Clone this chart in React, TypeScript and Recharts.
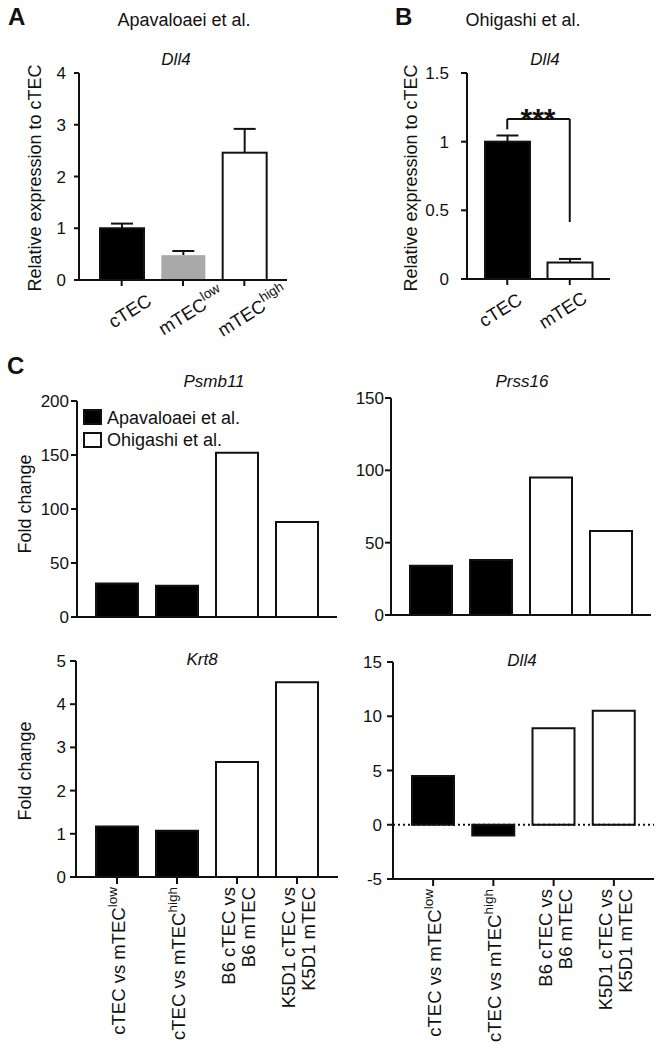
import React from "react";
import { BarChart, Bar, XAxis, YAxis, Cell, ReferenceLine } from "recharts";

const FONT = "'Liberation Sans', Arial, Helvetica, sans-serif";
const INK = "#111";

// A: Apavaloaei et al., Dll4 relative to cTEC
const apaCells = ["cTEC", "mTEC^low", "mTEC^high"];
const apaDll4 = [1.0, 0.48, 2.46];
const apaDll4Err = [0.09, 0.08, 0.46];
const apaFills = ["#000", "#a9a9a9", "#fff"];
const apaTicks = [0, 1, 2, 3, 4];

// B: Ohigashi et al., Dll4 relative to cTEC
const ohiCells = ["cTEC", "mTEC"];
const ohiDll4 = [1.0, 0.12];
const ohiDll4Err = [0.045, 0.026];
const ohiFills = ["#000", "#fff"];
const ohiTicks = [0, 0.5, 1, 1.5];

// C: fold changes per comparison
const comparisons = [
  "cTEC vs mTEC^low",
  "cTEC vs mTEC^high",
  "B6 cTEC vs\nB6 mTEC",
  "K5D1 cTEC vs\nK5D1 mTEC",
];
const comparisonSource = ["Apavaloaei et al.", "Apavaloaei et al.", "Ohigashi et al.", "Ohigashi et al."];
const sources = ["Apavaloaei et al.", "Ohigashi et al."];
const sourceFills = ["#000", "#fff"];

const psmb11Fold = [31, 29, 152, 88];
const prss16Fold = [34, 38, 95, 58];
const krt8Fold = [1.17, 1.07, 2.66, 4.51];
const dll4Fold = [4.5, -1.0, 8.9, 10.5];

const psmb11Ticks = [0, 50, 100, 150, 200];
const prss16Ticks = [0, 50, 100, 150];
const krt8Ticks = [0, 1, 2, 3, 4, 5];
const dll4Ticks = [-5, 0, 5, 10, 15];

const apaData = apaCells.map((name, i) => ({ name, value: apaDll4[i], err: apaDll4Err[i], fill: apaFills[i] }));
const ohiData = ohiCells.map((name, i) => ({ name, value: ohiDll4[i], err: ohiDll4Err[i], fill: ohiFills[i] }));
const foldData = (values: number[]) => comparisons.map((name, i) => ({ name, value: values[i] }));
const fillFor = (i: number) => sourceFills[sources.indexOf(comparisonSource[i])];

const axisLine = { stroke: INK, strokeWidth: 2 };
const tickStyle = { fill: INK, fontSize: 17, fontFamily: FONT };

function parseLabel(s: string) {
  return s.split("\n").map((l) => {
    const [base, sup] = l.split("^");
    return { base, sup };
  });
}

// bar with an upward-only error bar (SEM)
function ErrBarShape(props: any) {
  const { x, y, width, height, payload } = props;
  const perUnit = payload.value ? height / payload.value : 0;
  const top = y - payload.err * perUnit;
  const cx = x + width / 2;
  return (
    <g>
      <line x1={cx} x2={cx} y1={y} y2={top} stroke={INK} strokeWidth={2} />
      <line x1={cx - 11} x2={cx + 11} y1={top} y2={top} stroke={INK} strokeWidth={2} />
      <rect
        x={x}
        y={y}
        width={width}
        height={height}
        fill={payload.fill}
        stroke={payload.fill === "#a9a9a9" ? "none" : INK}
        strokeWidth={2}
      />
    </g>
  );
}

function SlantTick(props: any) {
  const { x, y, payload, dx } = props;
  const { base, sup } = parseLabel(payload.value)[0];
  return (
    <g transform={`translate(${x + dx},${y + 23}) rotate(-32)`}>
      <text textAnchor="middle" dy="0.35em" fontSize={18.5} fill={INK} fontFamily={FONT}>
        {base}
        {sup && (
          <tspan dy={-8} fontSize={13.5}>
            {sup}
          </tspan>
        )}
      </text>
    </g>
  );
}

function UprightTick(props: any) {
  const { x, y, payload } = props;
  const lines = parseLabel(payload.value);
  const n = lines.length;
  return (
    <g transform={`translate(${x},${y}) rotate(-90)`}>
      {lines.map((l, i) => (
        <text
          key={i}
          x={0}
          y={8 + (i - (n - 1) / 2) * 20}
          textAnchor="end"
          fontSize={18.5}
          fill={INK}
          fontFamily={FONT}
        >
          {l.base}
          {l.sup && (
            <tspan dy={-8} fontSize={13.5}>
              {l.sup}
            </tspan>
          )}
        </text>
      ))}
    </g>
  );
}

function FoldChart({
  values,
  ticks,
  width,
  height,
  margin,
  yWidth,
  tickMargin,
  xHeight,
  pad,
  labels,
  zeroLine,
}: any) {
  return (
    <BarChart width={width} height={height} data={foldData(values)} margin={margin}>
      <XAxis
        dataKey="name"
        interval={0}
        height={xHeight}
        padding={{ left: pad, right: pad }}
        axisLine={axisLine}
        tickLine={axisLine}
        tickSize={7}
        tickMargin={3}
        tick={labels ? (p: any) => <UprightTick {...p} /> : false}
      />
      <YAxis
        type="number"
        domain={[ticks[0], ticks[ticks.length - 1]]}
        ticks={ticks}
        interval={0}
        width={yWidth}
        axisLine={axisLine}
        tickLine={axisLine}
        tickSize={6}
        tickMargin={tickMargin}
        tick={tickStyle}
      />
      {zeroLine && <ReferenceLine y={0} stroke={INK} strokeWidth={2} strokeDasharray="2 3" />}
      <Bar dataKey="value" barSize={42} isAnimationActive={false} stroke={INK} strokeWidth={2}>
        {values.map((_: number, i: number) => (
          <Cell key={`cell-${i}`} fill={fillFor(i)} />
        ))}
      </Bar>
    </BarChart>
  );
}

const textProps = { fill: INK, fontFamily: FONT };

export default function App() {
  return (
    <div style={{ position: "absolute", left: 0, top: 0, width: 664, height: 1050, background: "#fff" }}>
      {/* A */}
      <div style={{ position: "absolute", left: 0, top: 0 }}>
        <BarChart width={332} height={340} data={apaData} margin={{ top: 73, right: 45, bottom: 30, left: 0 }}>
          <XAxis
            dataKey="name"
            interval={0}
            height={30}
            padding={{ left: 12, right: 12 }}
            axisLine={axisLine}
            tickLine={axisLine}
            tickSize={6}
            tick={(p: any) => <SlantTick {...p} dx={8} />}
          />
          <YAxis
            type="number"
            domain={[0, 4]}
            ticks={apaTicks}
            interval={0}
            width={79}
            axisLine={axisLine}
            tickLine={axisLine}
            tickSize={5}
            tickMargin={8}
            tick={tickStyle}
          />
          <Bar dataKey="value" barSize={44} isAnimationActive={false} shape={ErrBarShape} />
        </BarChart>
      </div>

      {/* B */}
      <div style={{ position: "absolute", left: 332, top: 0 }}>
        <BarChart width={332} height={340} data={ohiData} margin={{ top: 73, right: 54, bottom: 31, left: 0 }}>
          <XAxis
            dataKey="name"
            interval={0}
            height={30}
            padding={{ left: 9, right: 9 }}
            axisLine={axisLine}
            tickLine={axisLine}
            tickSize={6}
            tick={(p: any) => <SlantTick {...p} dx={-7} />}
          />
          <YAxis
            type="number"
            domain={[0, 1.5]}
            ticks={ohiTicks}
            interval={0}
            width={135}
            axisLine={axisLine}
            tickLine={axisLine}
            tickSize={6}
            tickMargin={12}
            tick={tickStyle}
          />
          <Bar dataKey="value" barSize={45} isAnimationActive={false} shape={ErrBarShape} />
          <ReferenceLine segment={[{ x: "cTEC", y: 1.09 }, { x: "cTEC", y: 1.165 }]} stroke={INK} strokeWidth={2} />
          <ReferenceLine segment={[{ x: "cTEC", y: 1.165 }, { x: "mTEC", y: 1.165 }]} stroke={INK} strokeWidth={2} />
          <ReferenceLine segment={[{ x: "mTEC", y: 1.165 }, { x: "mTEC", y: 0.415 }]} stroke={INK} strokeWidth={2} />
        </BarChart>
      </div>

      {/* C */}
      <div style={{ position: "absolute", left: 0, top: 340 }}>
        <FoldChart
          values={psmb11Fold}
          ticks={psmb11Ticks}
          width={340}
          height={300}
          margin={{ top: 61, right: 3, bottom: 0, left: 0 }}
          yWidth={77}
          tickMargin={2}
          xHeight={23}
          pad={10}
        />
      </div>
      <div style={{ position: "absolute", left: 332, top: 340 }}>
        <FoldChart
          values={prss16Fold}
          ticks={prss16Ticks}
          width={332}
          height={300}
          margin={{ top: 58, right: 13, bottom: 0, left: 0 }}
          yWidth={59}
          tickMargin={1}
          xHeight={25}
          pad={10}
        />
      </div>
      <div style={{ position: "absolute", left: 0, top: 640 }}>
        <FoldChart
          values={krt8Fold}
          ticks={krt8Ticks}
          width={340}
          height={410}
          margin={{ top: 21, right: 2, bottom: 0, left: 0 }}
          yWidth={76}
          tickMargin={4}
          xHeight={173}
          pad={11}
          labels
        />
      </div>
      <div style={{ position: "absolute", left: 332, top: 640 }}>
        <FoldChart
          values={dll4Fold}
          ticks={dll4Ticks}
          width={332}
          height={410}
          margin={{ top: 22, right: 10, bottom: 0, left: 0 }}
          yWidth={61}
          tickMargin={5}
          xHeight={171}
          pad={10}
          labels
          zeroLine
        />
      </div>

      {/* titles, axis labels, legend */}
      <svg width={664} height={1050} style={{ position: "absolute", left: 0, top: 0, pointerEvents: "none" }}>
        <text x={8} y={25} fontSize={24} fontWeight="bold" {...textProps}>A</text>
        <text x={395} y={25} fontSize={24} fontWeight="bold" {...textProps}>B</text>
        <text x={7} y={374} fontSize={24} fontWeight="bold" {...textProps}>C</text>

        <text x={184} y={26} fontSize={18} textAnchor="middle" {...textProps}>Apavaloaei et al.</text>
        <text x={523} y={26} fontSize={18} textAnchor="middle" {...textProps}>Ohigashi et al.</text>

        <text x={176} y={65} fontSize={17} fontStyle="italic" textAnchor="middle" {...textProps}>Dll4</text>
        <text x={545} y={65} fontSize={17} fontStyle="italic" textAnchor="middle" {...textProps}>Dll4</text>
        <text x={214} y={387} fontSize={17} fontStyle="italic" textAnchor="middle" {...textProps}>Psmb11</text>
        <text x={522} y={387} fontSize={17} fontStyle="italic" textAnchor="middle" {...textProps}>Prss16</text>
        <text x={202} y={665} fontSize={17} fontStyle="italic" textAnchor="middle" {...textProps}>Krt8</text>
        <text x={522} y={666} fontSize={17} fontStyle="italic" textAnchor="middle" {...textProps}>Dll4</text>

        <text transform="translate(41,178) rotate(-90)" fontSize={18} textAnchor="middle" {...textProps}>
          Relative expression to cTEC
        </text>
        <text transform="translate(417,178) rotate(-90)" fontSize={18} textAnchor="middle" {...textProps}>
          Relative expression to cTEC
        </text>
        <text transform="translate(31,504) rotate(-90)" fontSize={18} textAnchor="middle" {...textProps}>
          Fold change
        </text>
        <text transform="translate(31,771) rotate(-90)" fontSize={18} textAnchor="middle" {...textProps}>
          Fold change
        </text>

        <text x={538} y={129} fontSize={30} fontWeight="bold" textAnchor="middle" {...textProps}>***</text>

        {sources.map((s, i) => (
          <g key={s}>
            <rect x={84} y={410 + i * 23} width={17} height={14} fill={sourceFills[i]} stroke={INK} strokeWidth={2} />
            <text x={107} y={424 + i * 22} fontSize={18} {...textProps}>{s}</text>
          </g>
        ))}
      </svg>
    </div>
  );
}
